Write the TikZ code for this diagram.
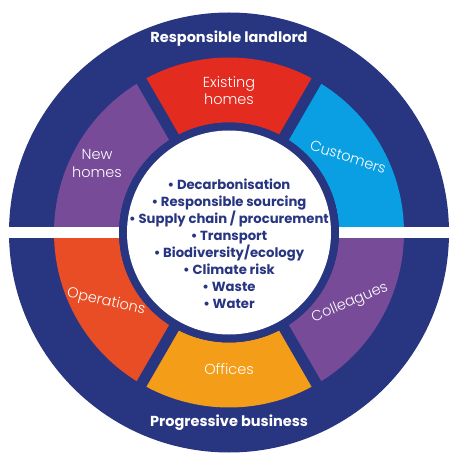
\documentclass[tikz,border=0pt]{standalone}
\usepackage{fontspec}
\setmainfont{Poppins}
\newfontfamily\lightfont{Poppins Light}
\definecolor{navy}{RGB}{40,53,129}
\definecolor{segpurple}{RGB}{119,75,151}
\definecolor{segred}{RGB}{228,43,32}
\definecolor{segblue}{RGB}{10,159,226}
\definecolor{segorange}{RGB}{232,77,37}
\definecolor{segyellow}{RGB}{244,157,25}
\tikzset{
  seglabel/.style={text=white, font=\lightfont\fontsize{14.5}{17.5}\selectfont, align=center, inner sep=0pt},
  headlabel/.style={text=white, font=\bfseries\fontsize{14.5}{16}\selectfont, inner sep=0pt},
  listlabel/.style={text=navy, font=\bfseries\fontsize{13.2}{17}\selectfont, align=center, inner sep=0pt},
  gapline/.style={navy, line width=11pt}
}
\newcommand{\segment}[3]{%
  \fill[#3] (#1:110pt) arc[start angle=#1, end angle=#2, radius=110pt]
    -- (#2:175pt) arc[start angle=#2, end angle=#1, radius=175pt] -- cycle;}
\begin{document}
\begin{tikzpicture}[x=1pt,y=1pt]
\path[use as bounding box, fill=white] (-229pt,-238.5pt) rectangle (230pt,232.5pt);
\fill[navy] (0pt,0pt) circle[radius=220pt];
\segment{120}{180}{segpurple}
\segment{60}{120}{segred}
\segment{0}{60}{segblue}
\segment{180}{240}{segorange}
\segment{240}{300}{segyellow}
\segment{300}{360}{segpurple}
\coordinate (c) at (0pt,0pt);
\foreach \a in {60,120,240,300} \draw[gapline] (c) -- (\a:180pt);
\fill[white] (-226pt,-5.5pt) rectangle (226pt,5.5pt);
\fill[navy] (c) circle[radius=110pt];
\fill[white] (c) circle[radius=102pt];
\node[headlabel] (rl) at (0pt,193.5pt) {Responsible landlord};
\node[headlabel] (pb) at (0pt,-190.5pt) {Progressive business};
\node[seglabel] (eh) at (0pt,142pt) {Existing\\homes};
\node[seglabel] (nh) at (-132pt,69pt) {New\\homes};
\node[seglabel, rotate=-18] (cu) at (119pt,75.5pt) {Customers};
\node[seglabel, rotate=-13] (op) at (-123pt,-69.5pt) {Operations};
\node[seglabel, rotate=23] (co) at (121pt,-70.5pt) {Colleagues};
\node[seglabel] (of) at (0pt,-136.5pt) {Offices};
\node[listlabel] (list) at (0pt,-11.5pt) {• Decarbonisation\\• Responsible sourcing\\• Supply chain / procurement\\• Transport\\• Biodiversity/ecology\\• Climate risk\\• Waste\\• Water};
\end{tikzpicture}
\end{document}
